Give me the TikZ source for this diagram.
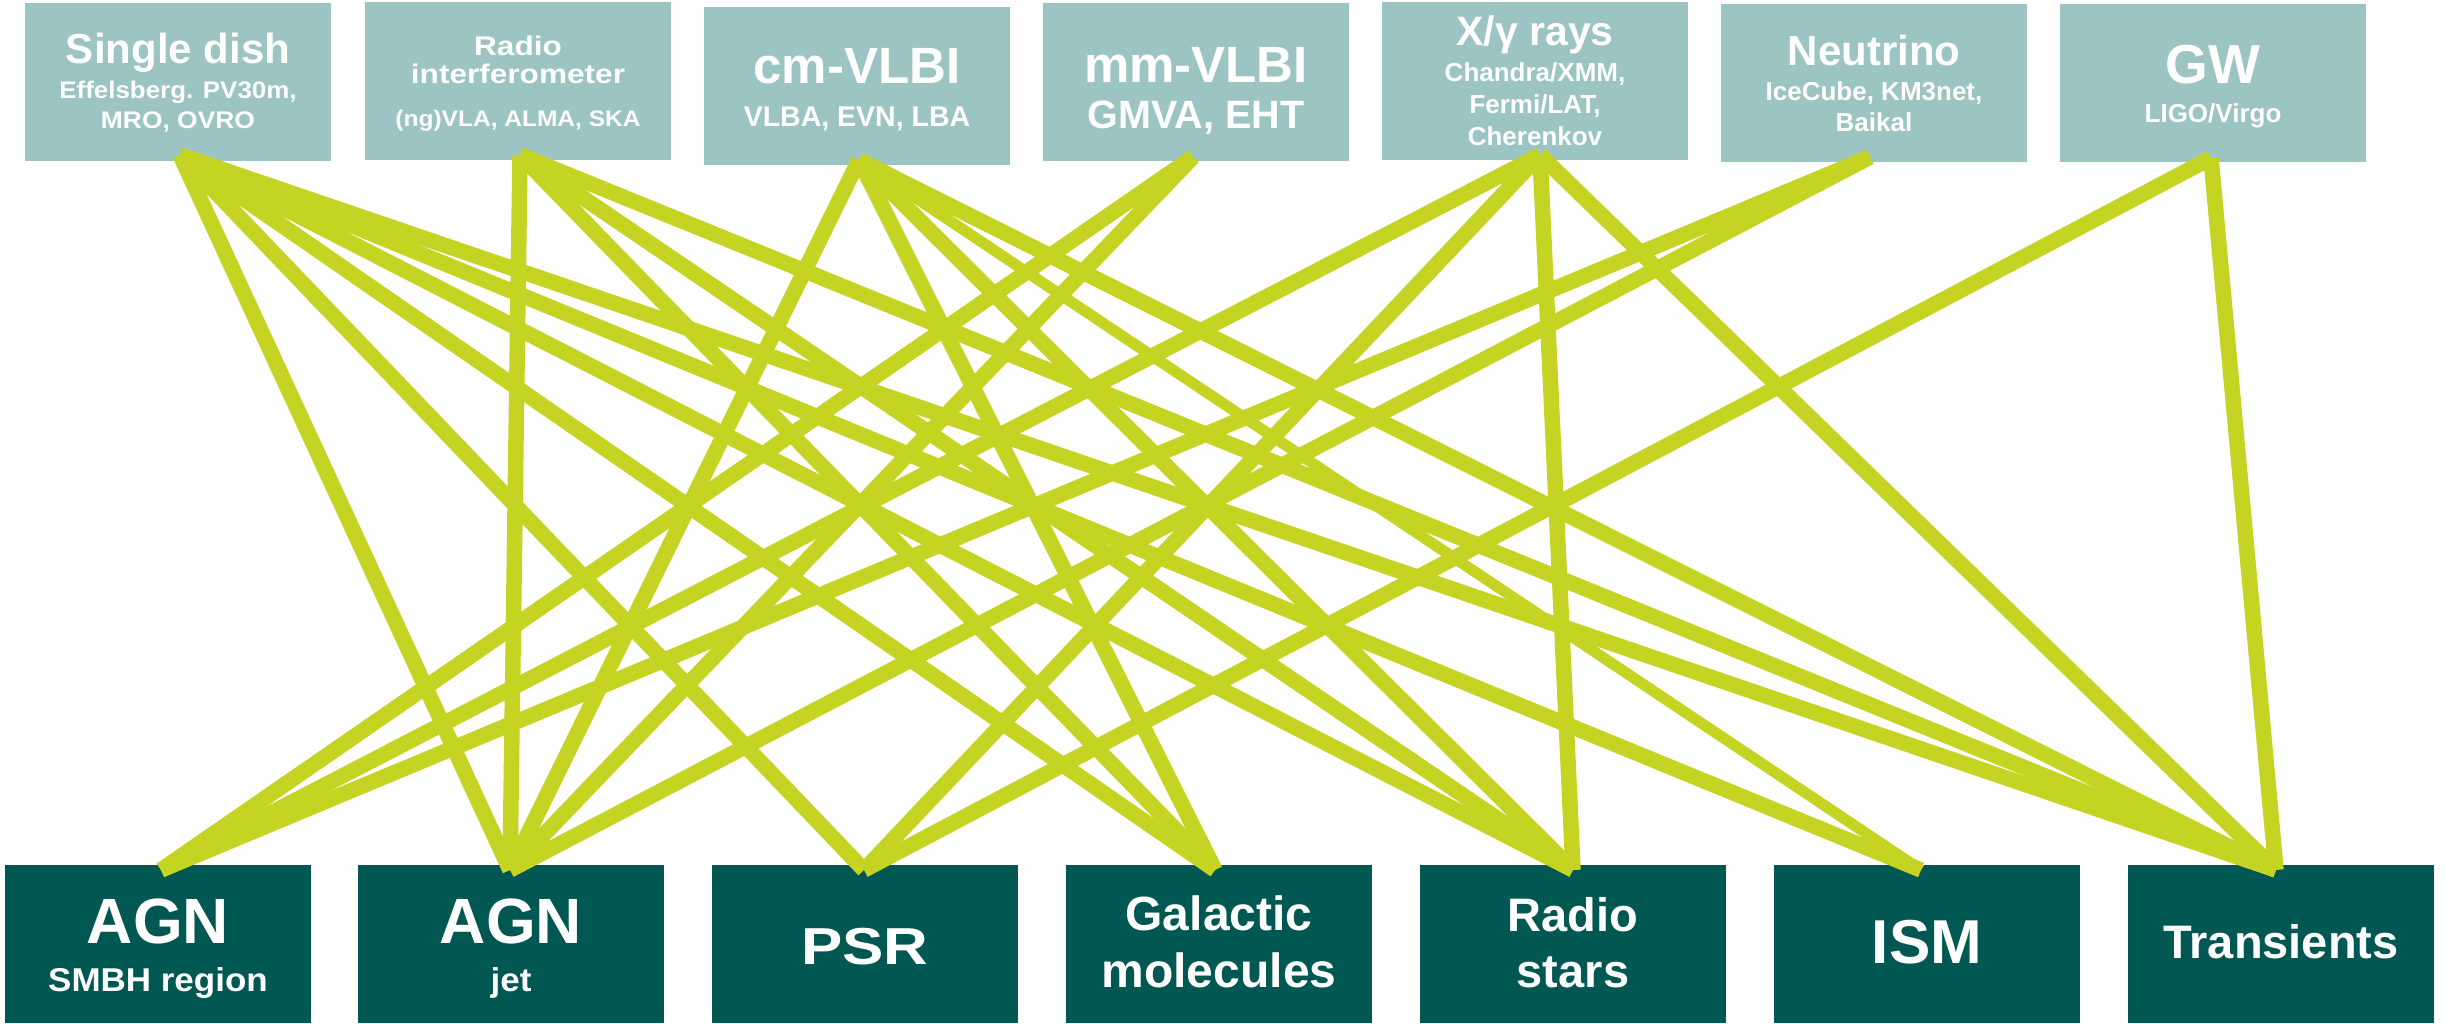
\documentclass[tikz,border=0pt]{standalone}
\usepackage{fontspec}
\setmainfont{Liberation Sans}
\usepackage{graphicx}
\definecolor{topfill}{RGB}{155,196,194}
\definecolor{botfill}{RGB}{1,87,81}
\definecolor{linkcol}{RGB}{197,211,34}
\newcommand{\fs}[1]{\fontsize{#1}{#1}\selectfont\bfseries}
\newcommand{\hstretch}[2]{\scalebox{#1}[1]{#2}}

\begin{document}
\begin{tikzpicture}[x=1pt,y=-1pt,
  instbox/.style={fill=topfill, draw=none, anchor=north west, inner sep=0pt,
                  minimum width=306pt, minimum height=158pt},
  srcbox/.style={fill=botfill, draw=none, anchor=north west, inner sep=0pt,
                 minimum width=306pt, minimum height=158pt},
  lbl/.style={anchor=base, text=white, inner sep=0pt},
  link/.style={draw=linkcol, line width=15.5pt, line cap=butt},
  thinlink/.style={link, line width=11pt}]

\useasboundingbox (0,0) rectangle (2445,1023);
\fill[white] (0,0) rectangle (2445,1023);

% instrument boxes (top row)
\node[instbox] (sd) at (25,3) {};
\node[instbox] (ri) at (365,2) {};
\node[instbox] (cm) at (704,7) {};
\node[instbox] (mm) at (1043,3) {};
\node[instbox] (xg) at (1382,2) {};
\node[instbox] (nu) at (1721,4) {};
\node[instbox] (gw) at (2060,4) {};

% source-class boxes (bottom row)
\node[srcbox] (smbh) at (5,865) {};
\node[srcbox] (jet) at (358,865) {};
\node[srcbox] (psr) at (712,865) {};
\node[srcbox] (gal) at (1066,865) {};
\node[srcbox] (rs) at (1420,865) {};
\node[srcbox] (ism) at (1774,865) {};
\node[srcbox] (tr) at (2128,865) {};

% connector end points
\coordinate (sd-p) at (180,155);
\coordinate (ri-p) at (520,155);
\coordinate (cm-p) at (859,160);
\coordinate (mm-p) at (1193,157);
\coordinate (xg-p) at (1540,155);
\coordinate (nu-p) at (1870,157);
\coordinate (gw-p) at (2211,158);
\coordinate (smbh-p) at (161,870);
\coordinate (jet-p) at (510,870);
\coordinate (psr-p) at (864,870);
\coordinate (gal-p) at (1215,870);
\coordinate (rs-p) at (1573,870);
\coordinate (ism-p) at (1921,870);
\coordinate (tr-p) at (2276,870);

% links
\foreach \t in {jet,psr,gal,rs,ism,tr} \draw[link] (sd-p) -- (\t-p);
\foreach \t in {jet,gal,rs,tr} \draw[link] (ri-p) -- (\t-p);
\foreach \t in {jet,gal,rs,tr} \draw[link] (cm-p) -- (\t-p);
\draw[thinlink] (cm-p) -- (ism-p);
\foreach \t in {smbh,jet} \draw[link] (mm-p) -- (\t-p);
\foreach \t in {smbh,psr,rs,tr} \draw[link] (xg-p) -- (\t-p);
\foreach \t in {smbh,jet} \draw[link] (nu-p) -- (\t-p);
\foreach \t in {psr,tr} \draw[link] (gw-p) -- (\t-p);

% top labels
\node[lbl, font=\fs{42}] (sd-1) at (178,63) {Single dish};
\node[lbl, font=\fs{24}] (sd-2) at (178,98) {\hstretch{1.08}{Effelsberg. PV30m,}};
\node[lbl, font=\fs{24}] (sd-3) at (178,128) {\hstretch{1.1}{MRO, OVRO}};

\node[lbl, font=\fs{27}] (ri-1) at (518,55) {\hstretch{1.17}{Radio}};
\node[lbl, font=\fs{27}] (ri-2) at (518,83) {\hstretch{1.17}{interferometer}};
\node[lbl, font=\fs{22.5}] (ri-3) at (518,126) {\hstretch{1.09}{(ng)VLA, ALMA, SKA}};

\node[lbl, font=\fs{51}] (cm-1) at (857,83) {cm-VLBI};
\node[lbl, font=\fs{28.5}] (cm-2) at (857,126) {VLBA, EVN, LBA};

\node[lbl, font=\fs{51}] (mm-1) at (1196,82) {mm-VLBI};
\node[lbl, font=\fs{39.5}] (mm-2) at (1196,128) {GMVA, EHT};

\node[lbl, font=\fs{41}] (xg-1) at (1535,45) {X/γ rays};
\node[lbl, font=\fs{26}] (xg-2) at (1535,81) {Chandra/XMM,};
\node[lbl, font=\fs{26}] (xg-3) at (1535,113) {Fermi/LAT,};
\node[lbl, font=\fs{26}] (xg-4) at (1535,145) {Cherenkov};

\node[lbl, font=\fs{42}] (nu-1) at (1874,65) {Neutrino};
\node[lbl, font=\fs{26}] (nu-2) at (1874,100) {IceCube, KM3net,};
\node[lbl, font=\fs{26}] (nu-3) at (1874,131) {Baikal};

\node[lbl, font=\fs{55}] (gw-1) at (2213,83) {GW};
\node[lbl, font=\fs{26}] (gw-2) at (2213,122) {LIGO/Virgo};

% bottom labels
\node[lbl, font=\fs{64}] (smbh-1) at (158,943) {AGN};
\node[lbl, font=\fs{33}] (smbh-2) at (158,991) {\hstretch{1.06}{SMBH region}};
\node[lbl, font=\fs{64}] (jet-1) at (511,943) {AGN};
\node[lbl, font=\fs{33}] (jet-2) at (511,991) {\hstretch{1.06}{jet}};
\node[lbl, font=\fs{52}] (psr-1) at (865,964) {\hstretch{1.19}{PSR}};
\node[lbl, font=\fs{48}] (gal-1) at (1219,930) {Galactic};
\node[lbl, font=\fs{48}] (gal-2) at (1219,987) {molecules};
\node[lbl, font=\fs{47}] (rs-1) at (1573,931) {Radio};
\node[lbl, font=\fs{47}] (rs-2) at (1573,987) {stars};
\node[lbl, font=\fs{62}] (ism-1) at (1927,963) {ISM};
\node[lbl, font=\fs{47}] (tr-1) at (2281,958) {Transients};
\end{tikzpicture}
\end{document}
